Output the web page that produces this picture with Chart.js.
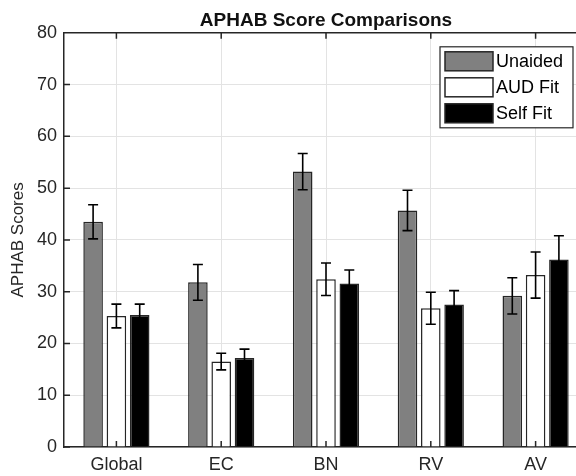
<!DOCTYPE html>
<html>
<head>
<meta charset="utf-8">
<script src="https://cdn.jsdelivr.net/npm/chart.js@4"></script>
<style>
  html, body { margin: 0; padding: 0; overflow: hidden; background: #fff; }
  #wrap { width: 600px; height: 476px; }
</style>
</head>
<body>
<div id="wrap"><canvas id="myChart" width="600" height="476"></canvas></div>
<script>
const categories = ['Global', 'EC', 'BN', 'RV', 'AV'];
const seriesNames = ['Unaided', 'AUD Fit', 'Self Fit'];
const unaided = [43.5, 31.8, 53.2, 45.7, 29.2];
const audFit = [25.3, 16.5, 32.4, 26.8, 33.2];
const selfFit = [25.5, 17.2, 31.6, 27.5, 36.2];
const unaidedErr = [3.3, 3.45, 3.5, 3.9, 3.5];
const audFitErr = [2.3, 1.6, 3.15, 3.1, 4.45];
const selfFitErr = [2.1, 1.7, 2.6, 2.7, 4.6];
const yTicks = [0, 10, 20, 30, 40, 50, 60, 70, 80];

const FONT = '"Liberation Sans", Arial, sans-serif';
const AXIS = '#262626';
const barColors = ['#808080', '#ffffff', '#000000'];

// error bars drawn from each bar element through the y scale
const errorBars = {
    id: 'errorBars',
    afterDatasetsDraw(chart) {
        const ctx = chart.ctx;
        const y = chart.scales.y;
        ctx.save();
        ctx.strokeStyle = '#000';
        ctx.lineWidth = 1.6;
        chart.data.datasets.forEach((ds, i) => {
            const meta = chart.getDatasetMeta(i);
            meta.data.forEach((bar, j) => {
                const v = ds.data[j];
                const e = ds.errors[j];
                const top = y.getPixelForValue(v + e);
                const bot = y.getPixelForValue(v - e);
                ctx.beginPath();
                ctx.moveTo(bar.x, top);
                ctx.lineTo(bar.x, bot);
                ctx.moveTo(bar.x - 5, top);
                ctx.lineTo(bar.x + 5, top);
                ctx.moveTo(bar.x - 5, bot);
                ctx.lineTo(bar.x + 5, bot);
                ctx.stroke();
            });
        });
        ctx.restore();
    }
};

// matlab style box: top border and inward ticks
const axesBox = {
    id: 'axesBox',
    afterDatasetsDraw(chart) {
        const ctx = chart.ctx;
        const a = chart.chartArea;
        const x = chart.scales.x;
        const y = chart.scales.y;
        ctx.save();
        ctx.strokeStyle = AXIS;
        ctx.lineWidth = 1.5;
        ctx.beginPath();
        ctx.moveTo(a.left, a.top);
        ctx.lineTo(a.right + 2, a.top);
        y.ticks.forEach((t, i) => {
            const py = y.getPixelForTick(i);
            ctx.moveTo(a.left, py);
            ctx.lineTo(a.left + 6, py);
        });
        x.ticks.forEach((t, i) => {
            const px = x.getPixelForTick(i);
            ctx.moveTo(px, a.top);
            ctx.lineTo(px, a.top + 6);
            ctx.moveTo(px, a.bottom);
            ctx.lineTo(px, a.bottom - 6);
        });
        ctx.stroke();
        ctx.restore();
    }
};

const boxLegend = {
    id: 'boxLegend',
    afterDraw(chart) {
        const ctx = chart.ctx;
        const a = chart.chartArea;
        const left = a.right - 148, top = a.top + 14;
        ctx.save();
        ctx.fillStyle = '#fff';
        ctx.fillRect(left, top, 133, 81);
        ctx.strokeStyle = AXIS;
        ctx.lineWidth = 1.2;
        ctx.strokeRect(left, top, 133, 81);
        ctx.font = '18px ' + FONT;
        ctx.textBaseline = 'middle';
        chart.data.datasets.forEach((ds, i) => {
            const ry = top + 5 + i * 26;
            ctx.fillStyle = ds.backgroundColor;
            ctx.fillRect(left + 5, ry, 48, 19);
            ctx.strokeStyle = AXIS;
            ctx.lineWidth = 1.5;
            ctx.strokeRect(left + 5, ry, 48, 19);
            ctx.fillStyle = '#000';
            ctx.fillText(ds.label, left + 56, ry + 10.5);
        });
        ctx.restore();
    }
};

function makeDataset(label, values, errs, color) {
    return {
        label: label,
        data: values,
        errors: errs,
        backgroundColor: color,
        borderColor: AXIS,
        borderWidth: 1.5,
        categoryPercentage: 0.667,
        barPercentage: 0.84
    };
}

const ctx = document.getElementById('myChart').getContext('2d');
new Chart(ctx, {
    type: 'bar',
    data: {
        labels: categories,
        datasets: [
            makeDataset(seriesNames[0], unaided, unaidedErr, barColors[0]),
            makeDataset(seriesNames[1], audFit, audFitErr, barColors[1]),
            makeDataset(seriesNames[2], selfFit, selfFitErr, barColors[2])
        ]
    },
    options: {
        responsive: false,
        animation: false,
        layout: { padding: { left: 0, right: 12, top: 0, bottom: 0 } },
        plugins: {
            legend: { display: false },
            tooltip: { enabled: false },
            title: {
                display: true,
                fullSize: false,
                text: 'APHAB Score Comparisons',
                color: '#111',
                font: { family: FONT, size: 19, weight: 'bold' },
                padding: { top: 9, bottom: 1 }
            }
        },
        scales: {
            x: {
                grid: { offset: false, color: '#e3e3e3', drawTicks: false },
                border: { color: AXIS, width: 1.5 },
                ticks: { color: AXIS, padding: 7, font: { family: FONT, size: 18 } },
                afterFit(s) { s.height = 29; }
            },
            y: {
                min: 0,
                max: 80,
                afterBuildTicks(s) { s.ticks = yTicks.map(v => ({ value: v })); },
                grid: { color: '#e3e3e3', drawTicks: false },
                border: { color: AXIS, width: 1.5 },
                ticks: { color: AXIS, padding: 7, font: { family: FONT, size: 18 } },
                title: {
                    display: true,
                    text: 'APHAB Scores',
                    color: AXIS,
                    font: { family: FONT, size: 17 },
                    padding: { top: 8, bottom: 0 }
                },
                afterFit(s) { s.width = 64; }
            }
        }
    },
    plugins: [errorBars, axesBox, boxLegend]
});
</script>
</body>
</html>
